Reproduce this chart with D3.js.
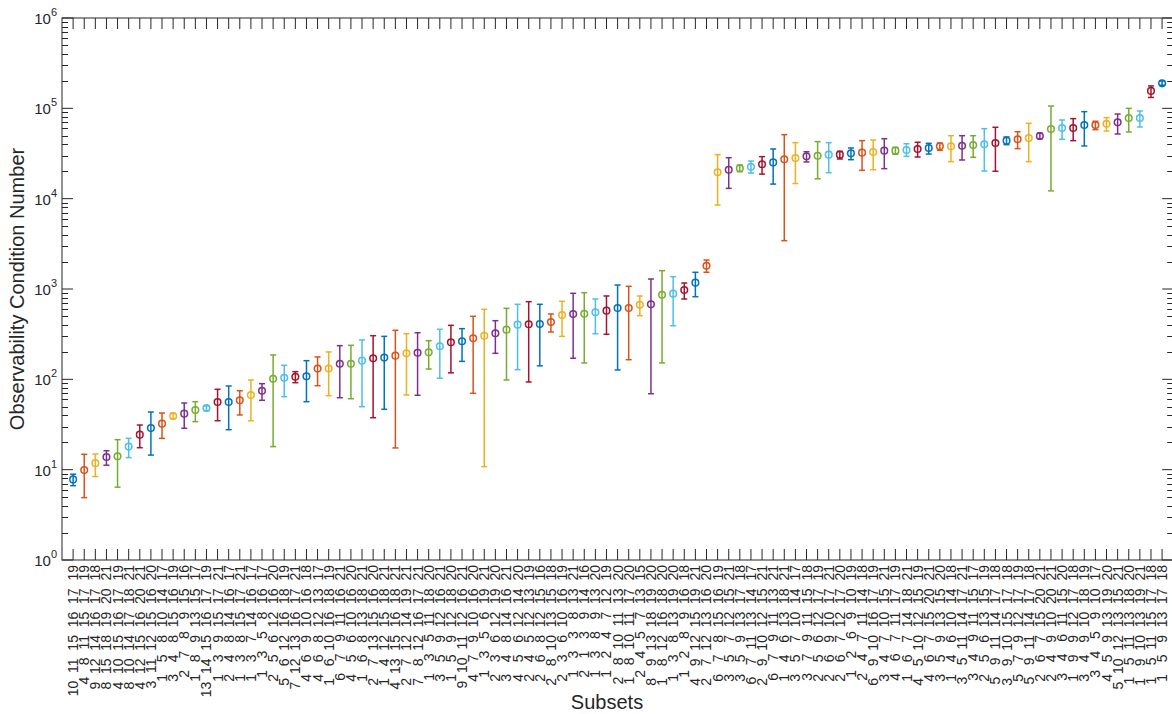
<!DOCTYPE html>
<html>
<head>
<meta charset="utf-8">
<script src="https://cdn.jsdelivr.net/npm/d3@7"></script>
<style>
  body { margin: 0; background: #fff; }
  svg { display: block; font-family: "Liberation Sans", Arial, Helvetica, sans-serif; }
  .xlab { white-space: pre; }
</style>
</head>
<body>
<div id="chart"></div>
<script>
// Subset labels (sensor indices), one per x position
const subsets = [
  "10 11 15 16 17 19", "4 8 11 15 17 19", "9 12 14 16 17 18", "8 15 18 19 20 21", "4 10 15 16 17 19",
  "8 10 14 17 18 21", "4 12 15 16 20 21", "3 11 12 15 16 20", "1 5 8 10 14 17", "3 4 8 15 16 19",
  "2 7 8 9 15 16", "1 8 9 13 15 17", "13 14 15 16 17 19", "1 3 9 15 17 21", "2 4 8 14 16 17",
  "1 3 8 15 17 21", "1 3 7 14 16 17", "1 3 5 8 16 17", "2 5 6 12 16 20", "5 6 12 16 18 19",
  "7 12 13 16 17 21", "4 6 9 10 16 18", "4 6 8 12 13 17", "1 6 10 16 18 19", "6 7 9 11 16 21",
  "4 5 6 10 16 20", "1 6 8 13 18 21", "2 7 13 15 16 20", "1 4 12 15 18 21", "4 13 15 16 18 21",
  "2 7 12 14 19 21", "7 8 12 16 17 21", "1 3 5 11 18 20", "3 5 9 12 16 21", "1 5 9 12 18 20",
  "9 10 11 12 16 21", "4 7 9 10 16 20", "1 3 5 6 19 21", "2 3 6 12 19 20", "3 4 8 14 16 21",
  "4 5 6 12 14 20", "2 4 5 12 13 19", "2 6 8 12 15 16", "2 8 10 13 15 18", "2 3 6 10 16 19",
  "1 3 3 8 13 21", "2 1 3 9 14 16", "1 3 8 9 13 20", "1 2 4 7 12 19", "2 8 10 11 13 20",
  "1 8 10 11 17 20", "2 4 5 7 13 15", "8 9 13 18 19 20", "1 8 12 16 18 20", "1 3 8 13 19 20",
  "1 2 8 9 16 18", "4 9 12 15 19 21", "2 7 12 13 16 20", "6 7 8 15 16 19", "3 5 7 12 15 21",
  "3 5 9 13 17 18", "6 7 11 13 14 17", "2 9 10 12 15 21", "6 7 9 11 13 21", "1 4 6 13 18 21",
  "3 5 7 10 14 17", "3 7 9 11 15 18", "2 5 6 12 17 19", "2 6 9 10 17 21", "2 6 7 12 17 20",
  "1 2 6 9 10 19", "2 4 7 11 14 18", "6 9 10 16 17 19", "3 4 7 10 15 21", "4 6 7 11 17 19",
  "1 6 7 14 18 21", "4 5 10 12 15 19", "4 6 7 15 20 21", "3 5 9 13 15 20", "1 4 6 10 14 18",
  "3 5 11 14 17 21", "3 4 9 11 15 17", "2 5 6 13 15 19", "5 9 11 14 17 18", "3 9 10 15 17 18",
  "5 7 9 12 17 19", "5 9 11 14 17 18", "2 6 7 15 20 21", "2 4 9 10 20 21", "3 4 6 11 15 20",
  "1 9 9 12 17 18", "3 4 9 10 18 19", "3 4 5 9 10 17", "4 5 9 13 19 20", "5 10 12 13 15 21",
  "1 5 11 13 18 20", "1 9 10 13 19 21", "1 5 11 15 17 18", "1 5 9 13 17 18"
];

// Condition number: centre value and error-bar limits
const condValue = [
  7.8, 9.9, 11.8, 13.8, 14.1, 18, 24.4, 28.9, 32.3, 39.3,
  41.7, 45.8, 48.2, 56.1, 56.1, 58.6, 67.1, 74.8, 101.6, 104,
  107, 108, 132, 132, 149, 149, 161, 171, 174, 183,
  194, 197, 199, 232, 257, 264, 285, 304, 324, 355,
  403, 407, 410, 431, 516, 529, 533, 552, 576, 617,
  617, 670, 677, 865, 888, 975, 1175, 1812, 19600, 20900,
  21700, 22600, 24000, 25200, 27300, 28200, 29400, 29900, 30700, 30700,
  31800, 32300, 32900, 34000, 34000, 34600, 35500, 36400, 38000, 38000,
  38600, 39300, 40000, 41300, 43900, 45400, 47000, 49400, 59100, 60600,
  60600, 65400, 65400, 67600, 70000, 78200, 78200, 156000, 189000
];
const condUpper = [
  8.9, 14.8, 14.9, 16.2, 21.5, 22.2, 31.2, 43.5, 42.4, 42,
  54.7, 56.6, 50.7, 77.6, 84.4, 74.8, 98.4, 89.5, 186, 143,
  121.6, 161, 177, 201, 236, 238, 273, 304, 299, 349,
  320, 328, 268, 358, 396, 364, 499, 596, 446, 611,
  677, 724, 677, 529, 731, 896, 911, 775, 837, 1107,
  1071, 837, 1290, 1596, 1370, 1165, 1531, 2094, 30700, 28400,
  23600, 26100, 29200, 35500, 51100, 41700, 33100, 42800, 41700, 33400,
  36400, 43900, 44600, 46100, 37000, 40600, 42100, 41000, 41300, 49800,
  49800, 49800, 59600, 61700, 48200, 55100, 68300, 53000, 106000, 74300,
  76900, 91900, 71900, 78900, 86500, 100000, 93500, 177000, 201000
];
const condLower = [
  6.65, 4.9, 8.4, 11.2, 6.4, 13.6, 17.5, 14.5, 22.2, 36.7,
  28.7, 34.0, 45, 34.8, 27.7, 40.3, 34.8, 58.6, 18, 64.3,
  91.8, 56.6, 85, 65.9, 62.6, 61, 49.8, 37.6, 46.6, 17.4,
  67.1, 66.6, 130, 103, 118, 158, 70, 10.8, 194, 98.4,
  128, 93.5, 141, 334, 299, 171, 152, 320, 315, 127,
  165, 507, 69.3, 152, 392, 775, 822, 1531, 8510, 13000,
  19900, 19200, 18700, 14500, 3430, 14700, 25500, 16600, 19400, 27500,
  27000, 20600, 20900, 21500, 31000, 29400, 28900, 31200, 34300, 25700,
  26800, 28700, 20200, 20100, 39600, 35800, 25700, 46100, 12200, 45400,
  43900, 38300, 58100, 56100, 52000, 54700, 62200, 132000, 180000
];

const yTickExps = [0, 1, 2, 3, 4, 5, 6];
const colorOrder = ["#0072BD", "#D95319", "#EDB120", "#7E2F8E", "#77AC30", "#4DBEEE", "#A2142F"];

const W = 1172, H = 714;
const margin = { top: 18, left: 62, bottom: 154 };
const plotBottom = H - margin.bottom;
const axisColor = "#262626";

const svg = d3.select("#chart").append("svg")
  .attr("width", W).attr("height", H);

const n = condValue.length;
const x = d3.scaleLinear().domain([0, n + 1]).range([margin.left, margin.left + 11.112 * (n + 1)]);
const y = d3.scaleLog().domain([1, 1e6]).range([plotBottom, margin.top]);

const xRight = x(n + 1);

// minor ticks on log axis
const minorTicks = [];
for (let e = 0; e < 6; e++) {
  for (let k = 2; k <= 9; k++) minorTicks.push(k * 10 ** e);
}

const axes = svg.append("g").attr("stroke", axisColor).attr("stroke-width", 1);

// y ticks (left and right, inward)
[margin.left, xRight].forEach((x0, side) => {
  const dir = side === 0 ? 1 : -1;
  axes.selectAll(null).data(yTickExps).join("line")
    .attr("x1", x0).attr("x2", x0 + dir * 11)
    .attr("y1", d => y(10 ** d)).attr("y2", d => y(10 ** d));
  axes.selectAll(null).data(minorTicks).join("line")
    .attr("x1", x0).attr("x2", x0 + dir * 6)
    .attr("y1", d => Math.round(y(d)) + 0.5).attr("y2", d => Math.round(y(d)) + 0.5);
});

// x ticks (bottom and top, inward)
const xTicks = d3.range(1, n + 1);
axes.selectAll(null).data(xTicks).join("line")
  .attr("x1", d => x(d)).attr("x2", d => x(d))
  .attr("y1", plotBottom).attr("y2", plotBottom - 11);
axes.selectAll(null).data(xTicks).join("line")
  .attr("x1", d => x(d)).attr("x2", d => x(d))
  .attr("y1", margin.top).attr("y2", margin.top + 11);

// box
axes.append("rect")
  .attr("x", margin.left).attr("y", margin.top)
  .attr("width", xRight - margin.left).attr("height", plotBottom - margin.top)
  .attr("fill", "none");

// y tick labels 10^k
const yl = svg.append("g").attr("fill", axisColor);
yTickExps.forEach(e => {
  const t = yl.append("text")
    .attr("x", 57).attr("y", y(10 ** e) + 6)
    .attr("text-anchor", "end").attr("font-size", 15);
  t.append("tspan").text("10");
  t.append("tspan").attr("dy", -8).attr("font-size", 11).text(e);
});

// x tick labels, formatted like num2str field widths
const fmt = s => s.split(" ").map(v => v.padStart(4, " ")).join("").trimStart();
svg.append("g").selectAll("text").data(subsets).join("text")
  .attr("class", "xlab")
  .attr("transform", (d, i) => `translate(${x(i + 1) + 5},${plotBottom + 5}) rotate(-90)`)
  .attr("text-anchor", "end")
  .attr("font-size", 14)
  .attr("fill", axisColor)
  .text(d => fmt(d));

// axis titles
svg.append("text")
  .attr("transform", `translate(24,${(margin.top + plotBottom) / 2}) rotate(-90)`)
  .attr("text-anchor", "middle").attr("font-size", 20).attr("fill", axisColor)
  .text("Observability Condition Number");
svg.append("text")
  .attr("x", 607).attr("y", 709)
  .attr("text-anchor", "middle").attr("font-size", 20).attr("fill", axisColor)
  .text("Subsets");

// error bars
const data = condValue.map((v, i) => ({ i: i + 1, v, hi: condUpper[i], lo: condLower[i] }));
const marks = svg.append("g").attr("fill", "none").attr("stroke-width", 1.5);
const g = marks.selectAll("g").data(data).join("g")
  .attr("stroke", d => colorOrder[(d.i - 1) % colorOrder.length]);

g.append("line")
  .attr("x1", d => x(d.i)).attr("x2", d => x(d.i))
  .attr("y1", d => y(d.lo)).attr("y2", d => y(d.hi));
g.append("line")
  .attr("x1", d => x(d.i) - 3).attr("x2", d => x(d.i) + 3)
  .attr("y1", d => y(d.hi)).attr("y2", d => y(d.hi));
g.append("line")
  .attr("x1", d => x(d.i) - 3).attr("x2", d => x(d.i) + 3)
  .attr("y1", d => y(d.lo)).attr("y2", d => y(d.lo));
g.append("circle")
  .attr("cx", d => x(d.i)).attr("cy", d => y(d.v))
  .attr("r", 3.3);
</script>
</body>
</html>
